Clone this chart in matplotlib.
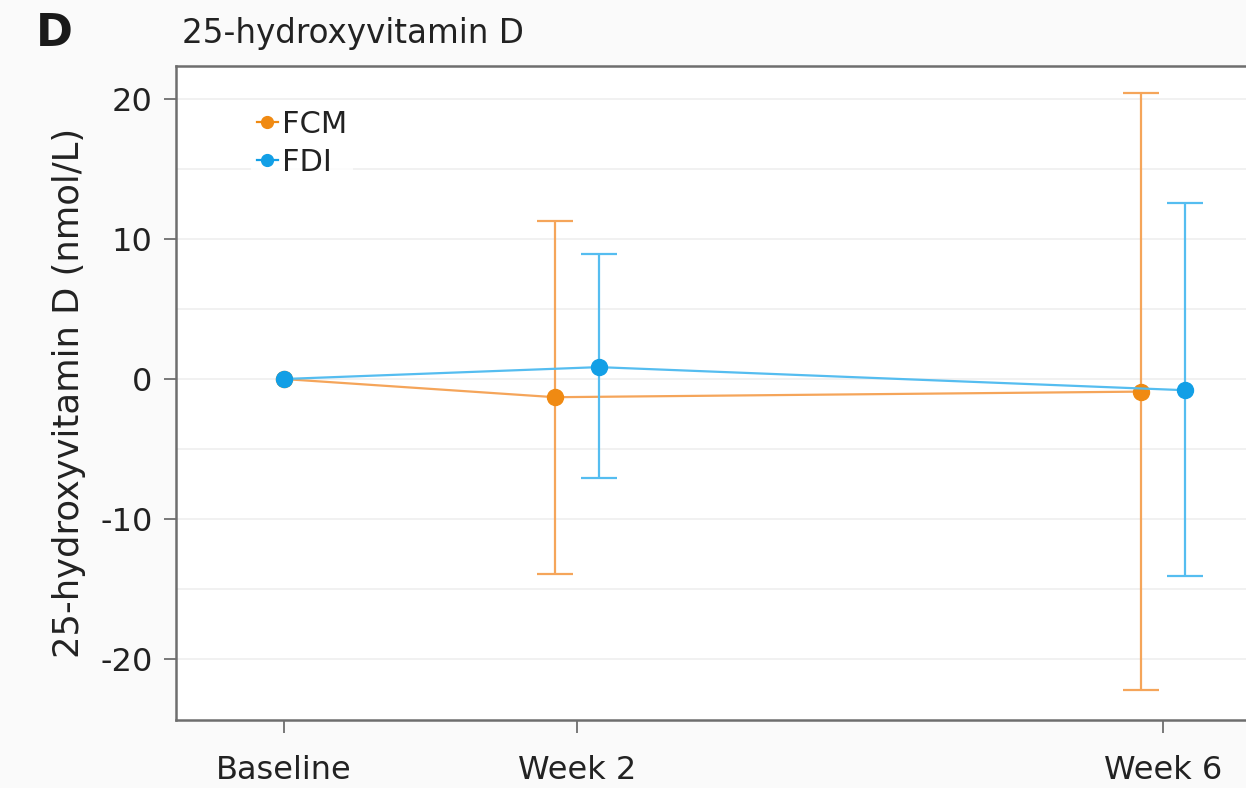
import matplotlib
matplotlib.use("Agg")
import matplotlib.pyplot as plt
import numpy as np

# Visits and their x positions (weeks from baseline)
visits = ["Baseline", "Week 2", "Week 6"]
weeks = [0, 2, 6]

# Change from baseline in 25-hydroxyvitamin D (nmol/L): mean and interval limits
fcm_mean = [0.0, -1.3, -0.9]
fcm_upper = [0.0, 11.3, 20.4]
fcm_lower = [0.0, -13.9, -22.2]

fdi_mean = [0.0, 0.85, -0.8]
fdi_upper = [0.0, 8.9, 12.6]
fdi_lower = [0.0, -7.1, -14.1]

plt.rcParams["font.family"] = ["DejaVu Sans"]
plt.rcParams["axes.unicode_minus"] = False

fig = plt.figure(figsize=(12.46, 7.88), dpi=100, facecolor="#fafafa")
ax = fig.add_axes([0.1413, 0.0863, 0.865, 0.8299])
ax.set_facecolor("white")

orange, orange_bar = "#f08a12", "#f5a55a"
blue, blue_bar = "#129fe6", "#55bdf0"

dodge = 0.15
x = np.array(weeks, dtype=float)
# no horizontal dodge at baseline where both groups sit at zero
shift = np.where(x == 0, 0.0, dodge)


def draw_group(mean, upper, lower, xs, color, bar_color, label, z):
    mean = np.asarray(mean)
    up = np.asarray(upper) - mean
    lo = mean - np.asarray(lower)
    has_bar = (up > 0) | (lo > 0)
    ax.errorbar(xs[has_bar], mean[has_bar], yerr=[lo[has_bar], up[has_bar]],
                fmt="none", ecolor=bar_color, elinewidth=1.6, capsize=13,
                capthick=1.6, zorder=z)
    ax.plot(xs, mean, color=bar_color, lw=1.6, zorder=z + 0.5)
    ax.plot(xs, mean, linestyle="none", marker="o", ms=11.5, color=color,
            zorder=z + 1)
    # legend proxy: marker with a short line
    ax.plot([], [], color=color, lw=1.6, marker="o", ms=8.5, label=label)


draw_group(fcm_mean, fcm_upper, fcm_lower, x - shift, orange, orange_bar, "FCM", 2)
draw_group(fdi_mean, fdi_upper, fdi_lower, x + shift, blue, blue_bar, "FDI", 4)

ax.set_xlim(-0.735, 6.62)
ax.set_ylim(-24.36, 22.36)
ax.set_xticks(weeks)
ax.set_xticklabels(visits)
ax.set_yticks([-20, -10, 0, 10, 20])
ax.set_yticks(np.arange(-20, 21, 5), minor=True)
ax.grid(True, which="both", axis="y", color="#efefef", lw=1.2, zorder=0)
ax.set_axisbelow(True)

for side in ("left", "bottom", "top", "right"):
    ax.spines[side].set_color("#6e6e6e")
    ax.spines[side].set_linewidth(1.8)

ax.tick_params(axis="both", which="major", length=9, width=1.3, color="#6e6e6e",
               labelsize=23, labelcolor="#222222")
ax.tick_params(axis="x", pad=16)
ax.tick_params(axis="y", pad=8)
ax.tick_params(axis="y", which="minor", length=0)

ax.set_ylabel("25-hydroxyvitamin D (nmol/L)", fontsize=25.5, color="#222222",
              labelpad=10)

leg = ax.legend(loc="upper left", bbox_to_anchor=(0.055, 0.966), frameon=True,
                fontsize=22, handlelength=0.7, handletextpad=0.12,
                labelspacing=0.3, borderpad=0.2)
leg.get_frame().set_facecolor("white")
leg.get_frame().set_edgecolor("none")
for t in leg.get_texts():
    t.set_color("#222222")

fig.text(0.029, 0.957, "D", fontsize=32, fontweight="bold", color="#1a1a1a",
         va="center", ha="left")
fig.text(0.146, 0.958, "25-hydroxyvitamin D", fontsize=23.5, color="#222222",
         va="center", ha="left")

fig.savefig("out.png", dpi=100, facecolor=fig.get_facecolor())
